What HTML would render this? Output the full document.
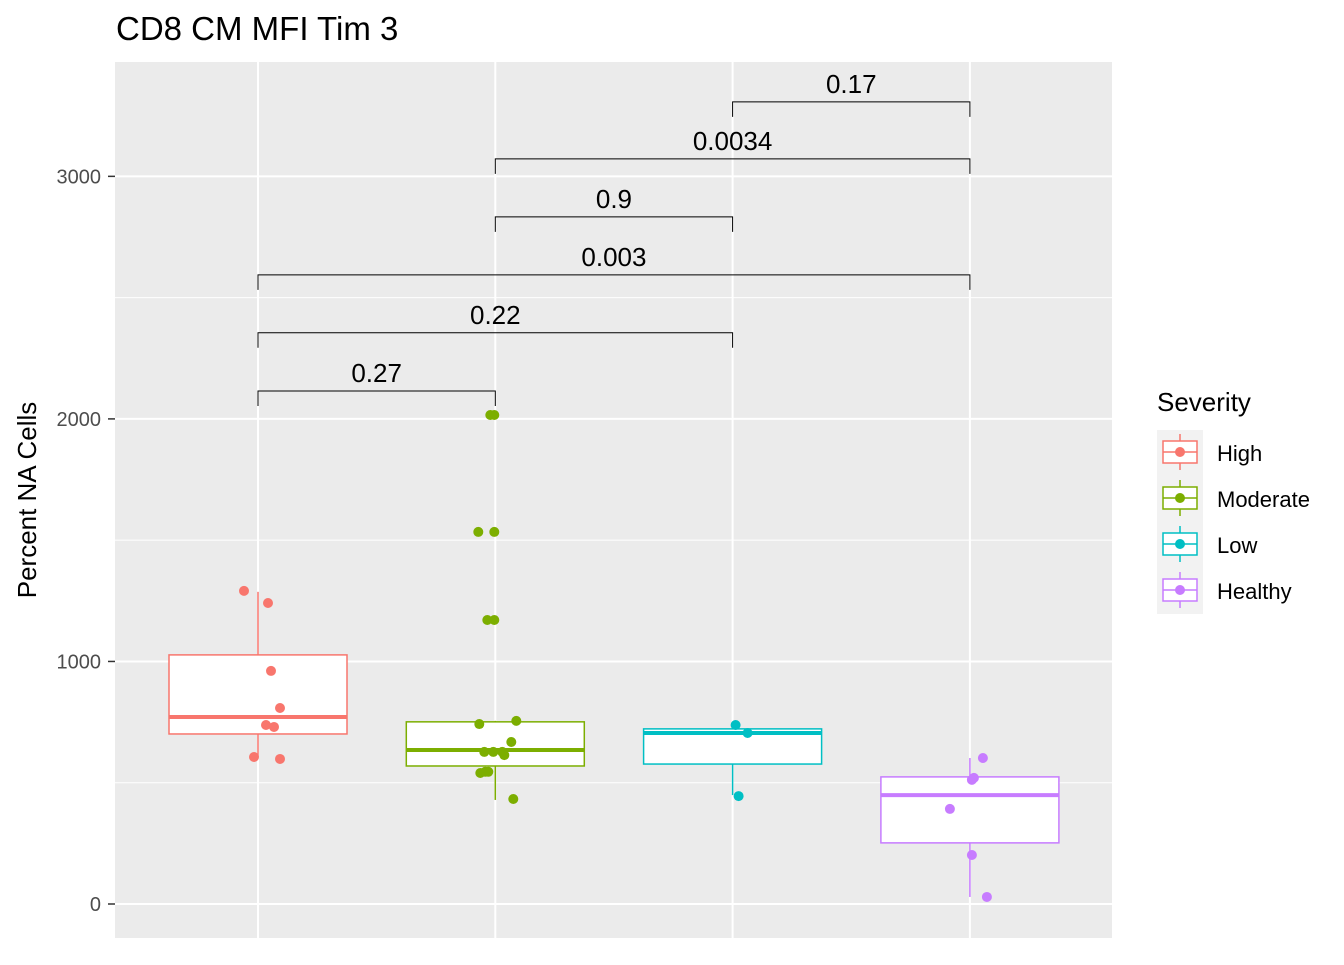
<!DOCTYPE html>
<html><head><meta charset="utf-8"><style>
body{margin:0;background:#fff;font-family:"Liberation Sans",Arial,sans-serif}
</style></head><body>
<svg id="chart" width="1344" height="960" xmlns="http://www.w3.org/2000/svg" font-family="Liberation Sans, Arial, sans-serif"></svg>
<script>
const categories=["High","Moderate","Low","Healthy"];
const colors=["#F8766D","#7CAE00","#00BFC4","#C77CFF"];
const boxQ1=[701,569,577,252];
const boxMedian=[771,635,705,449];
const boxQ3=[1027,751,722,524];
const whiskerLow=[606,429,449,29];
const whiskerHigh=[1287,755,738,602];
const pointsHigh=[[-14,1291],[10,1241],[13,961],[22,808],[8,738],[16,730],[-4,606],[22,598]];
const pointsModerate=[[-5,2016],[-1,2016],[-17,1534],[-1,1534],[-8,1171],[-1,1171],[-16,742],[21,755],[16,668],[-11,627],[-2,627],[7,627],[9,614],[-15,540],[-10,545],[-7,545],[18,433]];
const pointsLow=[[3,738],[15,705],[6,445]];
const pointsHealthy=[[13,602],[4,520],[2,512],[-20,392],[2,202],[17,29]];
const allPoints=[pointsHigh,pointsModerate,pointsLow,pointsHealthy];
const bracketFrom=[0,0,0,1,1,2];
const bracketTo=[1,2,3,2,3,3];
const bracketY=[2115,2355,2594,2833,3072,3307];
const bracketLabels=["0.27","0.22","0.003","0.9","0.0034","0.17"];
const yTicks=[0,1000,2000,3000];

const svg=document.getElementById('chart');
const NS="http://www.w3.org/2000/svg";
const P={l:115,r:1112,t:62,b:938};
const y=v=>904-v*0.24255;
const x=i=>258+i*237.3;
function el(tag,attrs,parent){const e=document.createElementNS(NS,tag);for(const k in attrs)e.setAttribute(k,attrs[k]);(parent||svg).appendChild(e);return e;}

let bg=el('rect',{x:P.l,y:P.t,width:P.r-P.l,height:P.b-P.t,fill:'#EBEBEB'});


[500,1500,2500].forEach(v=>el('line',{x1:P.l,x2:P.r,y1:y(v),y2:y(v),stroke:'#fff','stroke-width':1}));
yTicks.forEach(v=>{
  el('line',{x1:P.l,x2:P.r,y1:y(v),y2:y(v),stroke:'#fff','stroke-width':2});
  el('line',{x1:108,x2:115,y1:y(v),y2:y(v),stroke:'#333','stroke-width':1.5});
  const t=el('text',{x:101,y:y(v)+7,'text-anchor':'end','font-size':20,fill:'#4D4D4D'});
  t.textContent=v;
  
  
});
categories.forEach((c,i)=>el('line',{x1:x(i),x2:x(i),y1:P.t,y2:P.b,stroke:'#fff','stroke-width':2}));

categories.forEach((c,i)=>{
  const g=el('g',{});
  
  
  const col=colors[i],cx=x(i),hw=89;
  el('line',{x1:cx,x2:cx,y1:y(whiskerLow[i]),y2:y(boxQ1[i]),stroke:col,'stroke-width':1.5},g);
  el('line',{x1:cx,x2:cx,y1:y(whiskerHigh[i]),y2:y(boxQ3[i]),stroke:col,'stroke-width':1.5},g);
  el('rect',{x:cx-hw,y:y(boxQ3[i]),width:2*hw,height:y(boxQ1[i])-y(boxQ3[i]),fill:'#fff',stroke:col,'stroke-width':1.5},g);
  el('line',{x1:cx-hw,x2:cx+hw,y1:y(boxMedian[i]),y2:y(boxMedian[i]),stroke:col,'stroke-width':4},g);
  allPoints[i].forEach(p=>{
    const d=el('circle',{cx:cx+p[0],cy:y(p[1]),r:5,fill:col},g);
    
    
  });
});

bracketLabels.forEach((lab,k)=>{
  const g=el('g',{});
  
  
  const x1=x(bracketFrom[k]),x2=x(bracketTo[k]),yy=y(bracketY[k]);
  el('path',{d:`M${x1},${yy+15}V${yy}H${x2}V${yy+15}`,fill:'none',stroke:'#000','stroke-width':1},g);
  const t=el('text',{x:(x1+x2)/2,y:yy-9,'text-anchor':'middle','font-size':26,fill:'#000'},g);
  t.textContent=lab;
});

let tt=el('text',{x:116,y:40,'font-size':33,fill:'#000'});tt.textContent="CD8 CM MFI Tim 3";


let yt=el('text',{x:0,y:0,'font-size':26,fill:'#000','text-anchor':'middle',transform:'translate(36,500) rotate(-90)'});yt.textContent="Percent NA Cells";



let lg=el('g',{});


let lt=el('text',{x:1157,y:411,'font-size':26,fill:'#000'},lg);lt.textContent="Severity";
el('rect',{x:1157,y:430,width:46,height:184,fill:'#F2F2F2'},lg);
categories.forEach((c,i)=>{
  const cy=452+i*46,col=colors[i];
  const e=el('g',{},lg);
  
  
  el('line',{x1:1180,x2:1180,y1:cy-18,y2:cy+18,stroke:col,'stroke-width':1.5},e);
  el('rect',{x:1163,y:cy-11,width:34,height:22,fill:'#fff',stroke:col,'stroke-width':1.5},e);
  el('line',{x1:1163,x2:1197,y1:cy,y2:cy,stroke:col,'stroke-width':1.5},e);
  el('circle',{cx:1180,cy:cy,r:5,fill:col},e);
  const t=el('text',{x:1217,y:cy+9,'font-size':22,fill:'#000'},e);t.textContent=c;
});
</script>
</body></html>
